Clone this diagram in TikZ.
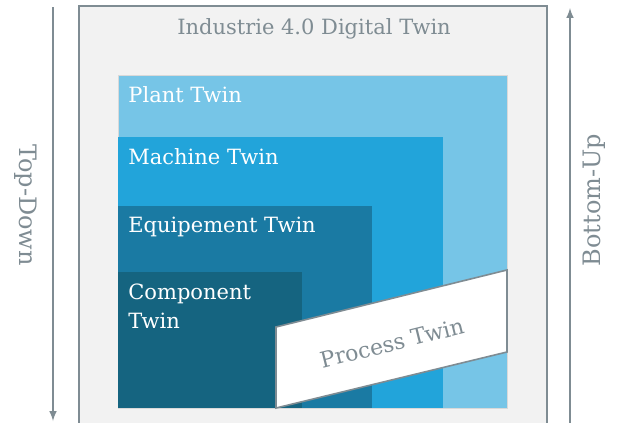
\documentclass[tikz,border=0pt]{standalone}
\usepackage{fontspec}
\setmainfont{DejaVu Serif}
\definecolor{frame}{HTML}{7F8C93}
\definecolor{paper}{HTML}{F2F2F2}
\definecolor{plant}{HTML}{76C5E7}
\definecolor{machine}{HTML}{22A4DA}
\definecolor{equip}{HTML}{1A7AA3}
\definecolor{component}{HTML}{156480}

\begin{document}
\begin{tikzpicture}[x=0.5pt,y=-0.5pt]
    \tikzstyle{every node}=[inner sep=0pt]
    \tikzstyle{twin label}=[anchor=base west,text=white,align=left,font=\fontsize{10.5}{14.5}\selectfont]
    \tikzstyle{gray label}=[text=frame,font=\fontsize{10.5}{12}\selectfont]
    \tikzstyle{flow}=[draw=frame,line width=0.7pt]
    \clip (0,0) rectangle (617,423);
    % outer frame, runs off the bottom
    \filldraw[fill=paper,draw=frame,line width=1pt] (79,6) rectangle (547,440);
    \node[gray label,anchor=base] (dt) at (314,34) {Industrie 4.0 Digital Twin};
    % nested twins
    \filldraw[fill=plant,draw=black!15,line width=0.5pt] (118,75) rectangle (507,408);
    \fill[machine] (118,137) rectangle (443,408);
    \fill[equip] (118,206) rectangle (372,408);
    \fill[component] (118,272) rectangle (302,408);
    \node[twin label] (plant) at (128,103) {Plant Twin};
    \node[twin label] (machine) at (128,164) {Machine Twin};
    \node[twin label] (equip) at (128,232) {Equipement Twin};
    \node[twin label] (comp) at (128,328) {Component\\Twin};
    % process twin cuts across the stack
    \filldraw[fill=white,draw=frame,line width=0.8pt] (276,327) -- (507,270) -- (507,352) -- (276,408) -- cycle;
    \node[gray label,rotate=14,font=\fontsize{11}{12}\selectfont] (process) at (392,343) {Process Twin};
    % directions
    \coordinate (td start) at (53,7);
    \coordinate (td end) at (53,421);
    \coordinate (bu start) at (570,430);
    \coordinate (bu end) at (570,8);
    \draw[flow,-latex] (td start) -- (td end);
    \draw[flow,-latex] (bu start) -- (bu end);
    \node[gray label,rotate=-90,font=\fontsize{12}{12}\selectfont] (topdown) at (26,205) {Top-Down};
    \node[gray label,rotate=90,font=\fontsize{12}{12}\selectfont] (bottomup) at (594,200) {Bottom-Up};
\end{tikzpicture}
\end{document}
